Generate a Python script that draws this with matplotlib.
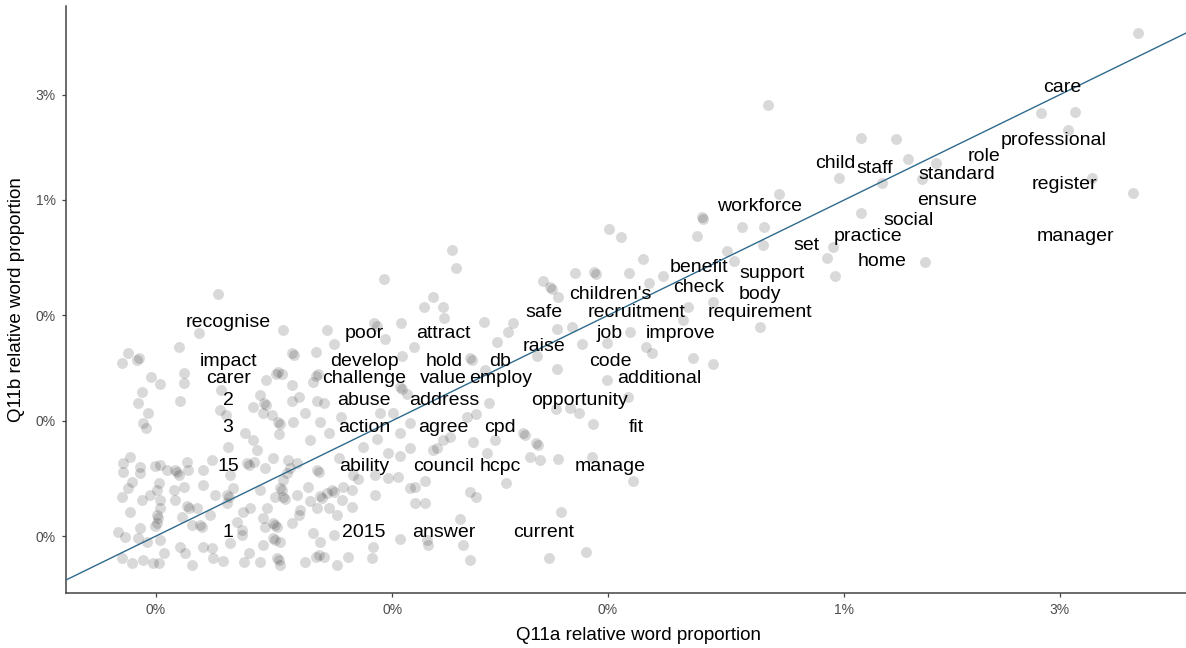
import matplotlib
matplotlib.use("Agg")
import numpy as np
import matplotlib.pyplot as plt
from matplotlib.ticker import FixedLocator, FixedFormatter, NullLocator

plt.rcParams['font.family'] = ['Liberation Sans', 'DejaVu Sans']

# ---------------- data ----------------
q11a_total_words = 2308
q11b_total_words = 2703

label_words = ["care", "professional", "role", "register", "child", "staff", "standard", "ensure",
               "workforce", "social", "manager", "practice", "set", "home", "benefit", "support",
               "check", "children's", "body", "safe", "recruitment", "requirement", "recognise",
               "poor", "attract", "job", "improve", "raise", "impact", "develop", "hold", "db",
               "code", "carer", "challenge", "value", "employ", "additional", "2", "abuse",
               "address", "opportunity", "3", "action", "agree", "cpd", "fit", "15", "ability",
               "council", "hcpc", "manage", "1", "2015", "answer", "current"]
label_q11a_counts = [70, 67, 47, 71, 22, 27, 41, 39,
                     15, 32, 75, 26, 19, 28, 11, 16,
                     11, 7, 15, 5, 8, 15, 1,
                     2, 3, 7, 10, 5, 1, 2, 3, 4,
                     7, 1, 2, 3, 4, 9, 1, 2,
                     3, 6, 1, 2, 3, 4, 8, 1, 2,
                     3, 4, 7, 1, 2, 3, 5]
label_q11b_counts = [104, 60, 51, 38, 47, 45, 42, 32,
                     30, 26, 22, 22, 20, 17, 16, 15,
                     13, 12, 12, 10, 10, 10, 9,
                     8, 8, 8, 8, 7, 6, 6, 6, 6,
                     6, 5, 5, 5, 5, 5, 4, 4,
                     4, 4, 3, 3, 3, 3, 3, 2, 2,
                     2, 2, 2, 1, 1, 1, 1]

# jittered points, log10 of relative word proportion
point_q11a_log10 = [
    -2.168, -2.144, -1.350, -1.565, -1.489, -1.963, -1.886, -1.860, -1.504, -1.798,
    -2.012, -1.916, -1.829, -1.451, -1.362, -1.963, -2.024, -2.039, -2.020, -1.821,
    -2.315, -2.312, -2.227, -2.177, -2.326, -2.520, -2.494, -2.260, -2.446, -2.179,
    -2.244, -2.400, -2.433, -2.476, -2.596, -2.554, -2.549, -2.666, -2.651, -2.646,
    -2.633, -2.290, -2.345, -2.186, -2.356, -2.868, -2.859, -2.909, -2.888, -2.885,
    -2.798, -2.732, -2.745, -2.636, -2.603, -2.475, -2.581, -2.525, -2.438, -2.426,
    -2.335, -2.290, -2.769, -2.828, -2.823, -2.680, -2.636, -2.525, -2.795, -3.018,
    -3.385, -2.929, -3.427, -3.241, -3.144, -3.040, -3.034, -2.981, -3.016, -3.130,
    -3.471, -3.584, -3.561, -3.565, -3.598, -3.221, -3.217, -3.168, -2.953, -2.979,
    -3.461, -3.461, -3.534, -3.514, -3.553, -3.280, -3.257, -3.253, -3.244, -3.222,
    -3.175, -3.169, -3.164, -3.292, -3.379, -2.983, -2.978, -2.968, -3.562, -3.469,
    -3.540, -3.551, -3.545, -3.284, -3.279, -3.309, -3.287, -3.267, -3.252, -3.248,
    -3.219, -3.193, -3.222, -3.206, -3.167, -3.152, -3.381, -3.368, -3.250, -3.326,
    -3.309, -3.363, -3.300, -3.399, -3.263, -3.322, -3.317, -3.307, -3.281, -3.230,
    -3.226, -3.211, -3.183, -3.160, -3.141, -3.114, -3.027, -2.998, -3.034, -2.983,
    -2.961, -3.009, -2.983, -2.961, -3.064, -3.119, -2.909, -3.595, -3.580, -3.595,
    -3.558, -3.558, -3.576, -3.584, -3.598, -3.580, -3.554, -3.536, -3.525, -3.514,
    -3.517, -3.521, -3.514, -3.514, -3.521, -3.518, -3.521, -3.525, -3.499, -3.481,
    -3.476, -3.473, -3.455, -3.451, -3.484, -3.462, -3.481, -3.455, -3.450, -3.433,
    -3.466, -3.444, -3.425, -3.421, -3.418, -3.418, -3.392, -3.366, -3.361, -3.366,
    -3.352, -3.359, -3.403, -3.331, -3.315, -3.278, -3.292, -3.248, -3.244, -3.242,
    -3.237, -3.259, -3.241, -3.233, -3.211, -3.186, -3.182, -3.167, -3.162, -3.160,
    -3.155, -3.145, -3.134, -3.129, -3.141, -3.167, -3.204, -3.206, -3.222, -3.263,
    -3.259, -3.256, -3.285, -3.281, -3.333, -3.344, -3.108, -3.090, -3.112, -3.090,
    -3.086, -3.077, -3.038, -3.038, -3.009, -2.987, -2.961, -2.950, -2.927, -2.950,
    -2.927, -3.123, -3.606, -3.591, -3.562, -3.558, -3.543, -3.514, -3.598, -3.576,
    -3.551, -3.529, -3.517, -3.506, -3.469, -3.458, -3.444, -3.418, -3.399, -3.396,
    -3.374, -3.359, -3.333, -3.318, -3.329, -3.292, -3.285, -3.263, -3.259, -3.248,
    -3.256, -3.250, -3.248, -3.193, -3.175, -3.160, -3.163, -3.169, -3.152, -3.123,
    -3.097, -3.130, -3.042, -3.045, -2.983, -2.924, -2.920, -2.787, -2.815, -2.835,
    -2.872, -2.887, -2.902, -2.821, -2.773, -2.791, -2.710, -2.706, -2.682, -2.677,
    -2.695, -2.673, -2.633, -2.556, -2.638, -2.607, -2.586, -2.478, -2.559, -2.468,
    -2.748, -2.828, -2.815, -2.627, -2.850, -2.843, -2.828, -2.653, -2.571]
point_q11b_log10 = [
    -1.570, -1.974, -1.242, -1.604, -1.600, -1.718, -1.725, -1.813, -1.683, -1.834,
    -1.902, -1.924, -1.906, -1.902, -1.967, -2.058, -2.212, -2.264, -2.344, -2.282,
    -2.078, -2.086, -2.124, -2.124, -2.163, -2.133, -2.169, -2.230, -2.269, -2.204,
    -2.275, -2.344, -2.375, -2.332, -2.332, -2.328, -2.335, -2.366, -2.393, -2.403,
    -2.438, -2.461, -2.486, -2.574, -2.544, -2.227, -2.310, -2.441, -2.486, -2.536,
    -2.551, -2.559, -2.597, -2.586, -2.577, -2.597, -2.652, -2.649, -2.667, -2.695,
    -2.715, -2.745, -2.642, -2.717, -2.725, -2.707, -2.766, -2.816, -2.770, -2.358,
    -2.427, -2.483, -2.601, -2.589, -2.589, -2.559, -2.571, -2.559, -2.630, -2.654,
    -2.665, -2.695, -2.717, -2.725, -2.740, -2.695, -2.702, -2.690, -2.665, -2.706,
    -2.783, -2.828, -2.803, -2.834, -2.871, -2.816, -2.788, -2.779, -2.790, -2.838,
    -2.823, -2.796, -2.788, -2.884, -2.861, -2.846, -2.856, -2.879, -2.921, -2.911,
    -2.967, -3.012, -3.034, -2.921, -2.929, -2.937, -2.967, -2.974, -3.005, -3.015,
    -3.005, -2.967, -2.911, -2.891, -2.911, -2.921, -2.952, -2.974, -3.062, -3.057,
    -3.087, -3.121, -3.133, -3.178, -3.170, -3.193, -3.201, -3.186, -3.216, -3.178,
    -3.216, -3.193, -3.087, -3.005, -3.057, -2.982, -2.967, -2.964, -3.084, -3.054,
    -3.012, -3.145, -3.160, -3.122, -3.121, -3.170, -3.133, -3.193, -3.163, -3.231,
    -3.208, -3.238, -3.276, -3.306, -3.347, -3.412, -3.359, -3.337, -3.205, -3.201,
    -3.284, -3.314, -3.359, -3.397, -3.427, -3.441, -3.465, -3.477, -3.223, -3.223,
    -3.232, -3.246, -3.186, -3.223, -3.314, -3.299, -3.359, -3.387, -3.396, -3.397,
    -3.435, -3.473, -3.473, -3.482, -3.223, -3.291, -3.337, -3.337, -3.346, -3.374,
    -3.306, -3.246, -3.427, -3.412, -3.397, -3.397, -3.314, -3.306, -3.314, -3.344,
    -3.355, -3.347, -3.269, -3.238, -3.337, -3.299, -3.364, -3.223, -3.232, -3.341,
    -3.350, -3.329, -3.314, -3.323, -3.397, -3.397, -3.405, -3.427, -3.465, -3.465,
    -3.473, -3.480, -3.442, -3.480, -3.495, -3.458, -3.299, -3.314, -3.359, -3.390,
    -3.246, -3.266, -3.337, -3.246, -3.261, -3.254, -3.306, -3.299, -3.273, -3.374,
    -3.374, -3.427, -3.503, -3.526, -3.533, -3.488, -3.548, -3.541, -3.623, -3.646,
    -3.631, -3.646, -3.646, -3.601, -3.571, -3.601, -3.654, -3.571, -3.578, -3.623,
    -3.636, -3.556, -3.518, -3.601, -3.639, -3.639, -3.563, -3.533, -3.541, -3.548,
    -3.623, -3.631, -3.654, -3.639, -3.510, -3.548, -3.609, -3.618, -3.616, -3.654,
    -3.616, -3.518, -3.571, -3.623, -3.536, -3.541, -3.563, -2.921, -2.970, -2.982,
    -3.073, -3.087, -3.125, -3.095, -3.087, -3.145, -3.057, -3.065, -3.100, -3.110,
    -3.163, -3.178, -3.174, -3.016, -2.948, -2.944, -2.964, -2.891, -3.163, -3.273,
    -3.281, -3.322, -3.344, -3.412, -3.447, -3.563, -3.631, -3.623, -3.594]

tick_values = [0.0003, 0.001, 0.003, 0.01, 0.03]
tick_labels = ["0%", "0%", "0%", "1%", "3%"]

x_limits_log10 = (-3.722, -1.2438)
y_limits_log10 = (-3.781, -1.121)

n = min(len(point_q11a_log10), len(point_q11b_log10))

# ---------------- figure ----------------
W, H = 1186, 648
fig = plt.figure(figsize=(W / 100, H / 100), dpi=100)
ax = fig.add_axes([66 / W, 55 / H, (1186 - 66) / W, 587 / H])
ax.set_xscale('log')
ax.set_yscale('log')

px = np.power(10.0, np.array(point_q11a_log10[:n]))
py = np.power(10.0, np.array(point_q11b_log10[:n]))
ax.scatter(px, py, s=62, c='black', alpha=0.15, linewidths=0, zorder=2)

ax.plot([1e-5, 1e-1], [1e-5, 1e-1], color='#2E6A8E', lw=1.0, zorder=3)

for w, a, b in zip(label_words, label_q11a_counts, label_q11b_counts):
    ax.annotate(w, (a / q11a_total_words, b / q11b_total_words), xytext=(0, -17),
                textcoords='offset pixels', ha='center', va='center',
                fontsize=14, color='black', zorder=4)

ax.set_xlim(10 ** x_limits_log10[0], 10 ** x_limits_log10[1])
ax.set_ylim(10 ** y_limits_log10[0], 10 ** y_limits_log10[1])

for axis in (ax.xaxis, ax.yaxis):
    axis.set_major_locator(FixedLocator(tick_values))
    axis.set_major_formatter(FixedFormatter(tick_labels))
    axis.set_minor_locator(NullLocator())

ax.spines['top'].set_visible(False)
ax.spines['right'].set_visible(False)
for s in ('left', 'bottom'):
    ax.spines[s].set_color('#444444')
    ax.spines[s].set_linewidth(1.1)
ax.tick_params(axis='both', which='major', length=3.2, width=0.9, color='#444444',
               labelcolor='#4D4D4D', labelsize=10, pad=4)

fig.text(638 / W, 1 - 636 / H, "Q11a relative word proportion", ha='center', va='center',
         fontsize=13.5, color='black')
fig.text(17 / W, 1 - 300 / H, "Q11b relative word proportion", ha='center', va='center',
         rotation=90, fontsize=13.5, color='black')

fig.savefig("out.png", dpi=100, facecolor='white')
